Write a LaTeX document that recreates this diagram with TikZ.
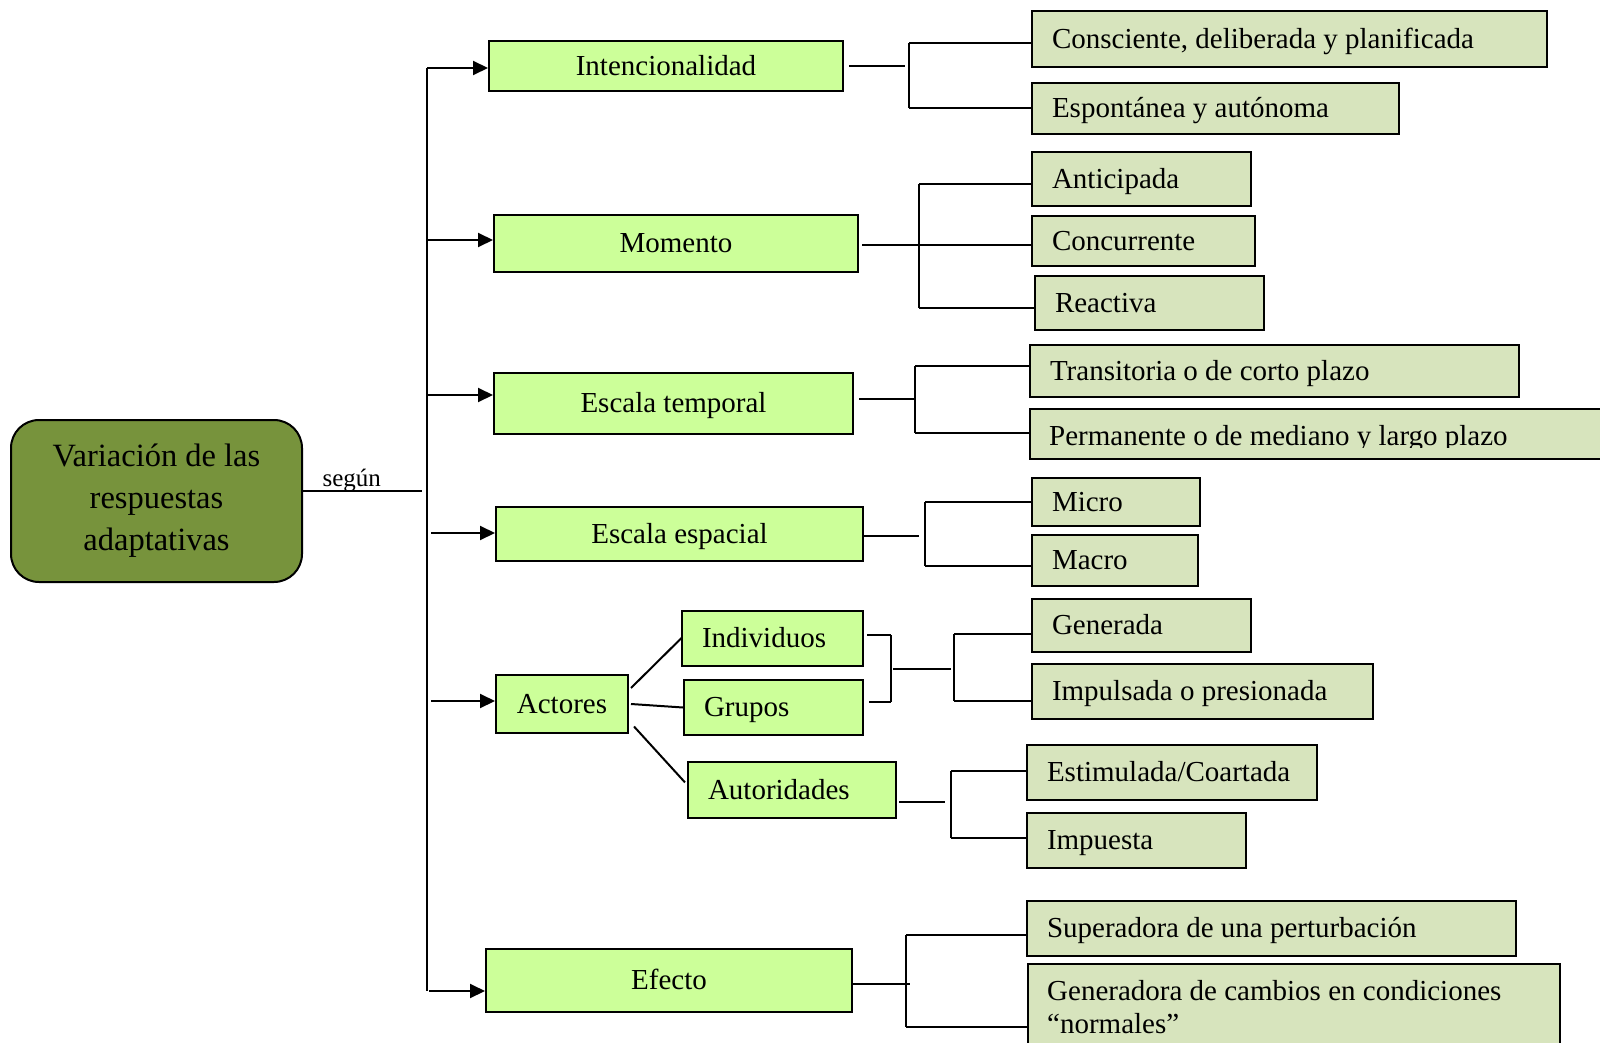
\documentclass[tikz,border=0pt]{standalone}
\usepackage{fontspec}
\setmainfont{Liberation Serif}
\usetikzlibrary{arrows.meta}

\definecolor{rootfill}{HTML}{77933C}
\definecolor{catfill}{HTML}{CCFF99}
\definecolor{leaffill}{HTML}{D7E4BD}

\tikzset{
  boxfont/.style={font=\fontsize{29}{34}\selectfont},
  basebox/.style={draw=black, line width=2pt, inner sep=0pt, boxfont,
    text height=25pt, text depth=6.5pt, anchor=north west},
  catbox/.style={basebox, fill=catfill, align=center},
  leafbox/.style={basebox, fill=leaffill},
  link/.style={line width=2pt},
  feed/.style={line width=2pt, -{Triangle[length=15pt,width=14pt]}},
}

% box given by its corners, text centred
\newcommand\placebox[7]{%
  \pgfmathsetmacro\bw{#5-#3}\pgfmathsetmacro\bh{#6-#4}%
  \node[#1, minimum width=\bw pt, minimum height=\bh pt] (#2) at (#3,#4) {#7};}
% box given by its corners, text set flush left
\newcommand\placeleft[7]{%
  \pgfmathsetmacro\bw{#5-#3-40}\pgfmathsetmacro\bh{#6-#4}%
  \node[#1, align=flush left, text width=\bw pt, inner xsep=20pt, minimum height=\bh pt] (#2) at (#3,#4) {#7};}

\begin{document}
\begin{tikzpicture}[x=1pt, y=-1pt]
\fill[white] (0,0) rectangle (1600,1043);
\clip (0,0) rectangle (1600,1043);

% root
\node[draw=black, line width=2pt, fill=rootfill, rounded corners=28pt,
  minimum width=291pt, minimum height=162pt, inner sep=0pt, align=center,
  font=\fontsize{32.5}{42}\selectfont] (root) at (156.5,501)
  {Variación de las\\respuestas\\adaptativas};

% trunk
\coordinate (seg) at (422,491);
\draw[link] (root.east |- seg) -- (seg)
  node[pos=0.41, anchor=base, yshift=5pt, inner sep=0pt,
       font=\fontsize{25}{30}\selectfont] (segun) {según};
\coordinate (ttop) at (427,68);
\coordinate (tbot) at (427,991);
\draw[link] (ttop) -- (tbot);

% categories
\placebox{catbox}{I}{488}{40}{842}{90}{Intencionalidad}
\placebox{catbox}{M}{493}{214}{857}{271}{Momento}
\placebox{catbox}{ET}{493}{372}{852}{433}{Escala temporal}
\placebox{catbox}{EE}{495}{506}{862}{560}{Escala espacial}
\placebox{catbox}{A}{495}{674}{627}{732}{Actores}
\placebox{catbox}{E}{485}{948}{851}{1011}{Efecto}
\placeleft{catbox}{Ind}{681}{610}{862}{665}{Individuos}
\placeleft{catbox}{Gr}{683}{679}{862}{734}{Grupos}
\placeleft{catbox}{Au}{687}{761}{895}{817}{Autoridades}

% arrows from the trunk
\coordinate (aI) at (427,68);
\coordinate (aM) at (427,240);
\coordinate (aT) at (427,395);
\coordinate (aS) at (431,533);
\coordinate (aA) at (431,701);
\coordinate (aE) at (429,991);
\draw[feed] (aI) -- (aI -| I.west);
\draw[feed] (aM) -- (aM -| M.west);
\draw[feed] (aT) -- (aT -| ET.west);
\draw[feed] (aS) -- (aS -| EE.west);
\draw[feed] (aA) -- (aA -| A.west);
\draw[feed] (aE) -- (aE -| E.west);

% actors
\draw[link] ([shift={(2,-16)}]A.east) -- ([shift={(1,-1)}]Ind.west);
\draw[link] ([xshift=2pt]A.east) -- (Gr.west);
\draw[link] ([shift={(5,22.5)}]A.east) -- ([shift={(-2,-7.6)}]Au.west);

% leaves
\placeleft{leafbox}{cons}{1031}{10}{1546}{66}{Consciente, deliberada y planificada}
\placeleft{leafbox}{espo}{1031}{82}{1398}{133}{Espontánea y autónoma}
\placeleft{leafbox}{anti}{1031}{151}{1250}{205}{Anticipada}
\placeleft{leafbox}{conc}{1031}{215}{1254}{265}{Concurrente}
\placeleft{leafbox}{reac}{1034}{275}{1263}{329}{Reactiva}
\placeleft{leafbox}{tran}{1029}{344}{1518}{396}{Transitoria o de corto plazo}
\placeleft{leafbox}{perm}{1029}{408}{1620}{458}{}
\begin{scope}
  \clip (1029,408) rectangle (1620,447.5);
  \node[boxfont, anchor=base west, inner sep=0pt] (permtext) at (1049,445)
    {Permanente o de mediano y largo plazo};
\end{scope}
\placeleft{leafbox}{micr}{1031}{477}{1199}{525}{Micro}
\placeleft{leafbox}{macr}{1031}{534}{1197}{585}{Macro}
\placeleft{leafbox}{gene}{1031}{598}{1250}{651}{Generada}
\placeleft{leafbox}{impu}{1031}{663}{1372}{718}{Impulsada o presionada}
\placeleft{leafbox}{esti}{1026}{744}{1316}{799}{Estimulada/Coartada}
\placeleft{leafbox}{impt}{1026}{812}{1245}{867}{Impuesta}
\placeleft{leafbox}{supe}{1026}{900}{1515}{955}{Superadora de una perturbación}
\placeleft{leafbox}{gen}{1027}{963}{1559}{1080}{}
\node[boxfont, anchor=base west, inner sep=0pt] (gen1) at (1047,1000)
  {Generadora de cambios en condiciones};
\node[boxfont, anchor=base west, inner sep=0pt] (gen2) at (1047,1033)
  {“normales”};

% brackets: Intencionalidad
\coordinate (sI1) at (909,43);
\coordinate (sI2) at (909,108);
\coordinate (jI) at (909,66);
\draw[link, shorten <=5pt] (I.east |- jI) -- ([xshift=-4pt]jI);
\draw[link] (sI1) -- (sI2);
\draw[link] (sI1) -- (sI1 -| cons.west);
\draw[link] (sI2) -- (sI2 -| espo.west);

% brackets: Momento
\coordinate (sM1) at (919,184);
\coordinate (sM3) at (919,308);
\coordinate (jM) at (919,245);
\draw[link, shorten <=3pt] (M.east |- jM) -- (jM);
\draw[link] (sM1) -- (sM3);
\draw[link] (sM1) -- (sM1 -| anti.west);
\draw[link] (jM) -- (jM -| conc.west);
\draw[link] (sM3) -- (sM3 -| reac.west);

% brackets: Escala temporal
\coordinate (sT1) at (915,366);
\coordinate (sT2) at (915,433);
\coordinate (jT) at (915,399);
\draw[link, shorten <=5pt] (ET.east |- jT) -- (jT);
\draw[link] (sT1) -- (sT2);
\draw[link] (sT1) -- (sT1 -| tran.west);
\draw[link] (sT2) -- (sT2 -| perm.west);

% brackets: Escala espacial
\coordinate (sS1) at (925,502);
\coordinate (sS2) at (925,566);
\coordinate (jS) at (925,536);
\draw[link, shorten >=6pt] (EE.east |- jS) -- (jS);
\draw[link] (sS1) -- (sS2);
\draw[link] (sS1) -- (sS1 -| micr.west);
\draw[link] (sS2) -- (sS2 -| macr.west);

% brackets: Individuos / Grupos
\coordinate (p1) at (891,635);
\coordinate (p2) at (891,702);
\coordinate (pm) at (891,669);
\coordinate (q1) at (954,634);
\coordinate (q2) at (954,701);
\coordinate (qm) at (954,669);
\draw[link, shorten <=3pt] (Ind.east |- p1) -- (p1);
\draw[link, shorten <=5pt] (Gr.east |- p2) -- (p2);
\draw[link] (p1) -- (p2);
\draw[link, shorten <=2pt, shorten >=3pt] (pm) -- (qm);
\draw[link] (q1) -- (q2);
\draw[link] (q1) -- (q1 -| gene.west);
\draw[link] (q2) -- (q2 -| impu.west);

% brackets: Autoridades
\coordinate (u1) at (951,771);
\coordinate (u2) at (951,838);
\coordinate (um) at (951,802);
\draw[link, shorten <=2pt, shorten >=6pt] (Au.east |- um) -- (um);
\draw[link] (u1) -- (u2);
\draw[link] (u1) -- (u1 -| esti.west);
\draw[link] (u2) -- (u2 -| impt.west);

% brackets: Efecto
\coordinate (e1) at (906,935);
\coordinate (e2) at (906,1027);
\coordinate (em) at (906,984);
\draw[link] (E.east |- em) -- ([xshift=4pt]em);
\draw[link] (e1) -- (e2);
\draw[link] (e1) -- (e1 -| supe.west);
\draw[link] (e2) -- (e2 -| gen.west);
\end{tikzpicture}
\end{document}
